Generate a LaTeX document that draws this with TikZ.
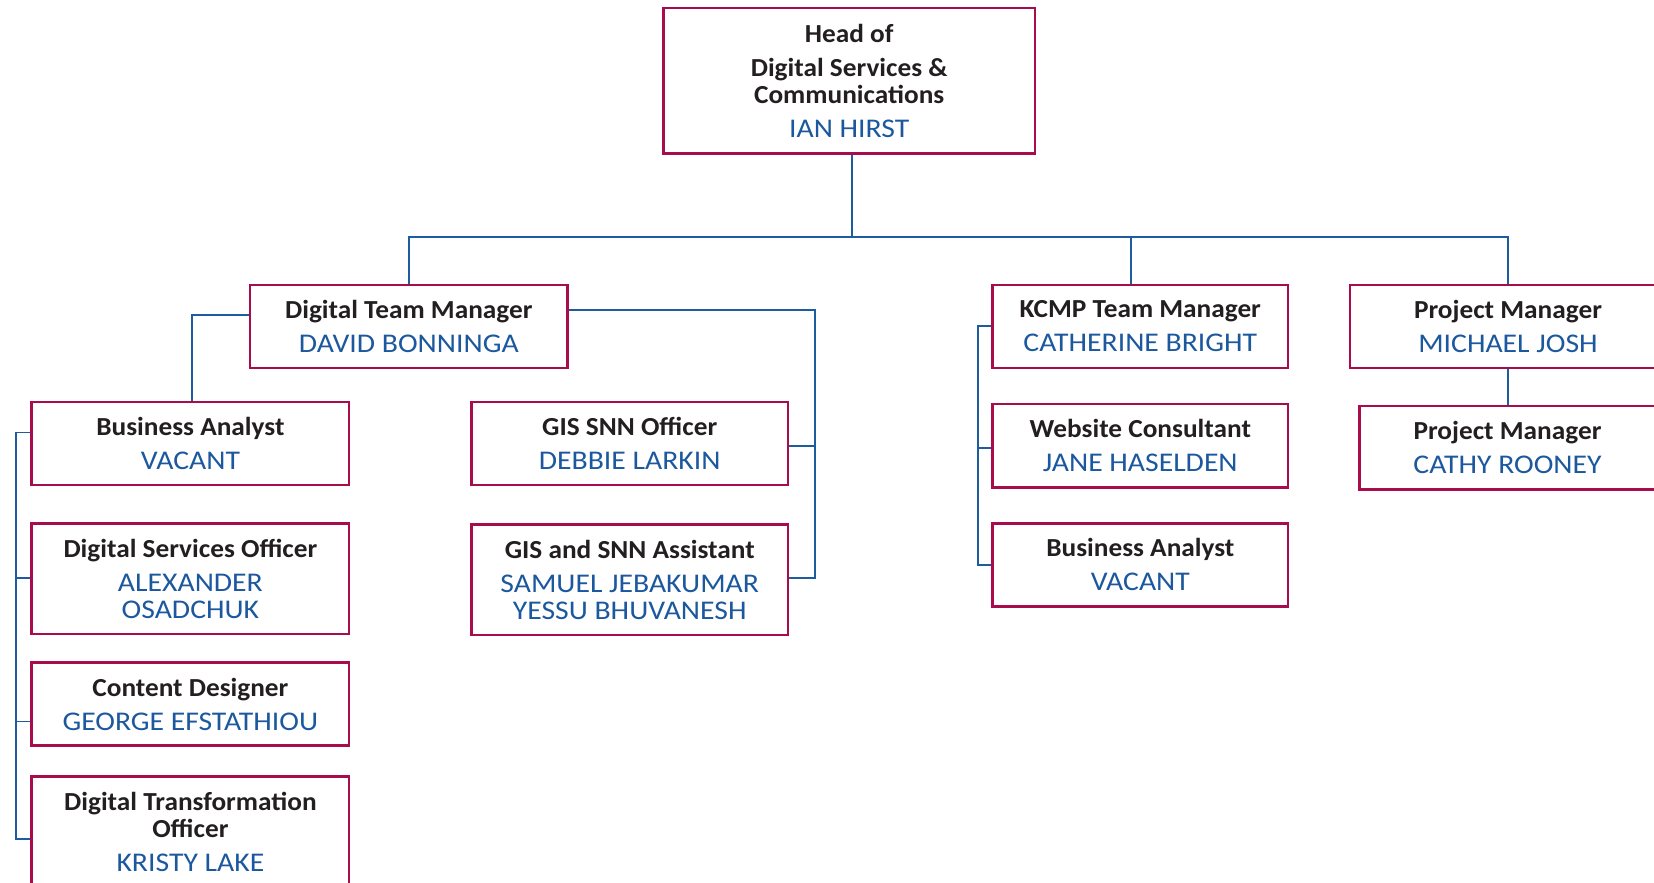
\documentclass[tikz,border=0pt]{standalone}
\usepackage{fontspec}
\setmainfont{Carlito}
\newfontfamily\titlefont[FakeStretch=1.05]{Carlito}
\newfontfamily\namefont[FakeStretch=1.1]{Carlito}
\definecolor{boxred}{RGB}{168,12,76}
\definecolor{namecol}{RGB}{28,88,158}
\definecolor{linecol}{RGB}{30,92,160}
\definecolor{titlecol}{RGB}{35,31,32}
\newcommand\nm[1]{{\namefont\mdseries\fontsize{27}{27}\selectfont\color{namecol}#1}}
\begin{document}
\begin{tikzpicture}[x=1pt,y=-1pt,
  box/.style={draw=boxred, line width=2.6pt, fill=white, rectangle, inner sep=0pt,
    align=center, minimum width=#1, text=titlecol,
    font=\titlefont\fontsize{26}{27}\selectfont\bfseries},
  box/.default=317.5,
  conn/.style={draw=linecol, line width=1.9pt}]
\useasboundingbox[fill=white] (0,0) rectangle (1654,883);

\node[box=371.3, minimum height=145] (head) at (849.2,80.7)
  {Head of\\[6.8pt]Digital Services \&\\Communications\\[6.8pt]\nm{IAN HIRST}};
\node[box, minimum height=83.3] (dtm) at (408.8,326.5)
  {Digital Team Manager\\[7pt]\nm{DAVID BONNINGA}};
\node[box, minimum height=83.3] (ba1) at (190.4,443.5)
  {Business Analyst\\[7pt]\nm{VACANT}};
\node[box, minimum height=110.8] (dso) at (190.4,578.6)
  {Digital Services Officer\\[7pt]\nm{ALEXANDER}\\\nm{OSADCHUK}};
\node[box, minimum height=83.3] (cd) at (190.4,704)
  {Content Designer\\[7pt]\nm{GEORGE EFSTATHIOU}};
\node[box, minimum height=110.8] (dto) at (190.4,831.7)
  {Digital Transformation\\Officer\\[7pt]\nm{KRISTY LAKE}};
\node[box=316.4, minimum height=83.3] (gis1) at (629.7,443.5)
  {GIS SNN Officer\\[7pt]\nm{DEBBIE LARKIN}};
\node[box=316.4, minimum height=110.8] (gis2) at (629.7,579.6)
  {GIS and SNN Assistant\\[7pt]\nm{SAMUEL JEBAKUMAR}\\\nm{YESSU BHUVANESH}};
\node[box=295.3, minimum height=83.3] (kcmp) at (1140.3,326.5)
  {KCMP Team Manager\\[7pt]\nm{CATHERINE BRIGHT}};
\node[box=295.3, minimum height=83.3] (wc) at (1140.3,445.7)
  {Website Consultant\\[7pt]\nm{JANE HASELDEN}};
\node[box=295.3, minimum height=83.3] (ba2) at (1140.3,564.9)
  {Business Analyst\\[7pt]\nm{VACANT}};
\node[box=316, minimum height=83.3] (pm1) at (1508,326.5)
  {Project Manager\\[7pt]\nm{MICHAEL JOSH}};
\node[box=296, minimum height=83.3] (pm2) at (1507.5,447.8)
  {Project Manager\\[7pt]\nm{CATHY ROONEY}};

% top bus
\coordinate (bus) at (852,237);
\draw[conn] (bus |- head.south) -- (bus);
\draw[conn] (dtm.north) |- (bus) -| (pm1.north);
\draw[conn] ([xshift=-9.6pt]kcmp.north) -- ([xshift=-9.6pt]kcmp.north |- bus);

% digital team manager to business analyst
\coordinate (dl) at (192,315.4);
\draw[conn] (dtm.west |- dl) -- (dl) -- (dl |- ba1.north);

% digital team manager right side
\coordinate (rT) at (815.4,310.1);
\coordinate (rM) at (815.4,446.2);
\coordinate (rB) at (815.4,578);
\draw[conn] (dtm.east |- rT) -- (rT) -- (rB) -- (gis2.east |- rB);
\draw[conn] (gis1.east |- rM) -- (rM);

% left column bus
\coordinate (lT) at (15.8,432.5);
\coordinate (lD) at (15.8,578);
\coordinate (lC) at (15.8,721.5);
\coordinate (lB) at (15.8,838.6);
\draw[conn] (ba1.west |- lT) -- (lT) -- (lB) -- (dto.west |- lB);
\draw[conn] (dso.west |- lD) -- (lD);
\draw[conn] (cd.west |- lC) -- (lC);

% KCMP bus
\coordinate (kT) at (977.8,325.9);
\coordinate (kM) at (977.8,448.3);
\coordinate (kB) at (977.8,565.4);
\draw[conn] (kcmp.west |- kT) -- (kT) -- (kB) -- (ba2.west |- kB);
\draw[conn] (wc.west |- kM) -- (kM);

% project managers
\draw[conn] (pm1.south) -- (pm1.south |- pm2.north);
\end{tikzpicture}
\end{document}
